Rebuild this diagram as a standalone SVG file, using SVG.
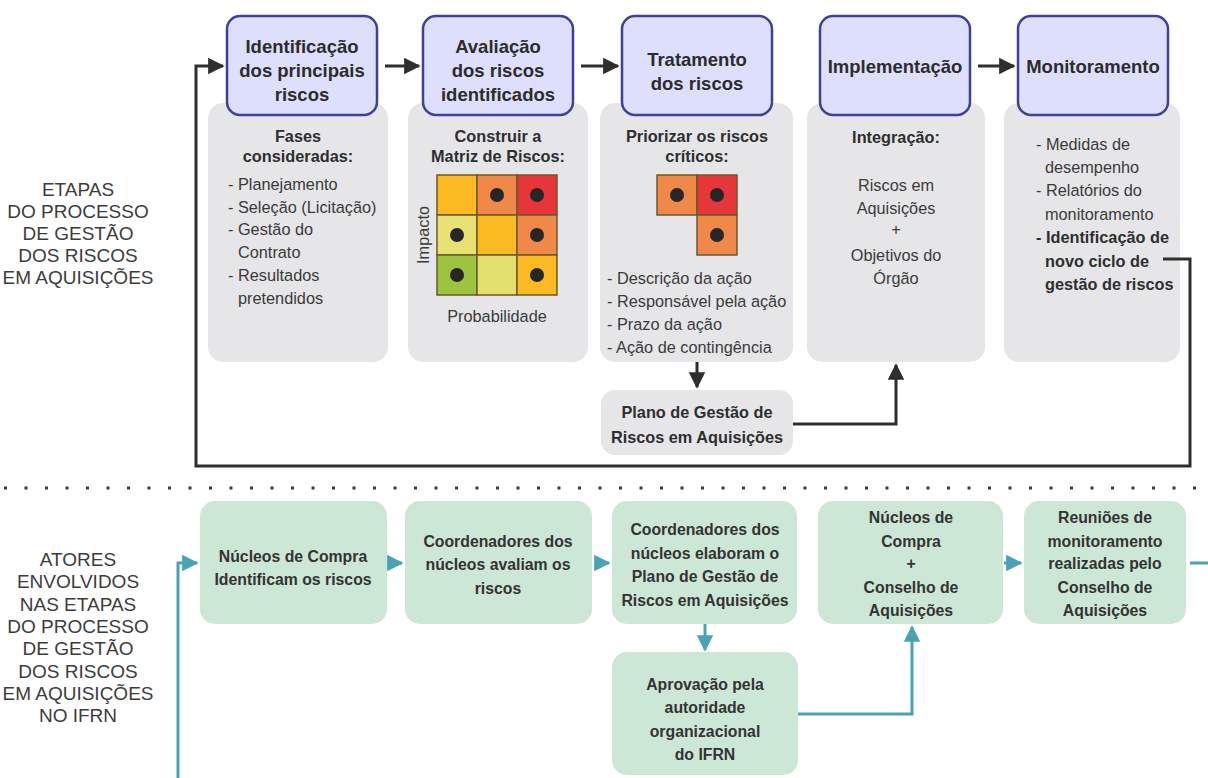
<svg xmlns="http://www.w3.org/2000/svg" width="1208" height="778" viewBox="0 0 1208 778">
  <style>
    text { font-family: "Liberation Sans", Arial, sans-serif; fill: #333; }
    .side { font-size: 19px; fill: #3c3c3c; text-anchor: middle; }
    .head rect { fill: #dedffc; stroke: #3f4196; stroke-width: 2.5; }
    .head text { font-size: 18.5px; font-weight: bold; text-anchor: middle; fill: #2c2c2c; }
    .panel rect.bg { fill: #e6e6e8; }
    .panel text { font-size: 16.3px; fill: #3a3a3a; }
    .panel text.b { font-weight: bold; fill: #2e2e2e; }
    .panel text.c { text-anchor: middle; }
    .actor rect { fill: #cde7d6; }
    .actor text { font-size: 15.8px; font-weight: bold; text-anchor: middle; fill: #333; }
    .cell { stroke: #6b5a2a; stroke-width: 1.5; }
    .dot { fill: #262626; }
    .dk { fill: none; stroke: #2e2e2e; stroke-width: 3; }
    .tl { fill: none; stroke: #4aa3b4; stroke-width: 3; }
  </style>
  <defs>
    <marker id="ahDark" viewBox="0 0 10 10" refX="9" refY="5" markerWidth="5.5" markerHeight="6" markerUnits="strokeWidth" orient="auto">
      <path d="M0,0 L10,5 L0,10 z" fill="#2e2e2e"/>
    </marker>
    <marker id="ahTeal" viewBox="0 0 10 10" refX="9" refY="5" markerWidth="5.5" markerHeight="6" markerUnits="strokeWidth" orient="auto">
      <path d="M0,0 L10,5 L0,10 z" fill="#4aa3b4"/>
    </marker>
  </defs>

  <rect x="0" y="0" width="1208" height="778" fill="#ffffff"/>

  <!-- side captions -->
  <g id="caption-etapas">
    <text class="side" x="78" y="196">ETAPAS</text>
    <text class="side" x="78" y="218">DO PROCESSO</text>
    <text class="side" x="78" y="240">DE GESTÃO</text>
    <text class="side" x="78" y="262">DOS RISCOS</text>
    <text class="side" x="78" y="284">EM AQUISIÇÕES</text>
  </g>
  <g id="caption-atores">
    <text class="side" x="78" y="566">ATORES</text>
    <text class="side" x="78" y="588">ENVOLVIDOS</text>
    <text class="side" x="78" y="611">NAS ETAPAS</text>
    <text class="side" x="78" y="633">DO PROCESSO</text>
    <text class="side" x="78" y="655">DE GESTÃO</text>
    <text class="side" x="78" y="678">DOS RISCOS</text>
    <text class="side" x="78" y="700">EM AQUISIÇÕES</text>
    <text class="side" x="78" y="722">NO IFRN</text>
  </g>

  <!-- dotted separator -->
  <line x1="4" y1="488" x2="1208" y2="488" stroke="#3a3a3a" stroke-width="3" stroke-dasharray="3 17.5"/>

  <!-- gray detail panels -->
  <g id="panel-fases" class="panel">
    <rect class="bg" x="208" y="103" width="180" height="259" rx="15"/>
    <text class="b c" x="298" y="142">Fases</text>
    <text class="b c" x="298" y="162">consideradas:</text>
    <text x="228" y="190">- Planejamento</text>
    <text x="228" y="213">- Seleção (Licitação)</text>
    <text x="228" y="235">- Gestão do</text>
    <text x="238" y="258">Contrato</text>
    <text x="228" y="281">- Resultados</text>
    <text x="238" y="304">pretendidos</text>
  </g>

  <g id="panel-matriz" class="panel">
    <rect class="bg" x="408" y="103" width="180" height="259" rx="15"/>
    <text class="b c" x="498" y="142">Construir a</text>
    <text class="b c" x="498" y="162">Matriz de Riscos:</text>
    <rect class="cell" x="437" y="175" width="40" height="40" fill="#fbba22"/>
    <rect class="cell" x="477" y="175" width="40" height="40" fill="#f0884a"/>
    <rect class="cell" x="517" y="175" width="40" height="40" fill="#e6363a"/>
    <rect class="cell" x="437" y="215" width="40" height="40" fill="#e8e274"/>
    <rect class="cell" x="477" y="215" width="40" height="40" fill="#fbba22"/>
    <rect class="cell" x="517" y="215" width="40" height="40" fill="#f0884a"/>
    <rect class="cell" x="437" y="255" width="40" height="40" fill="#9cc43e"/>
    <rect class="cell" x="477" y="255" width="40" height="40" fill="#e3e070"/>
    <rect class="cell" x="517" y="255" width="40" height="40" fill="#fbba22"/>
    <circle class="dot" cx="497" cy="195" r="7"/>
    <circle class="dot" cx="537" cy="195" r="7"/>
    <circle class="dot" cx="457" cy="235" r="7"/>
    <circle class="dot" cx="537" cy="235" r="7"/>
    <circle class="dot" cx="457" cy="275" r="7"/>
    <circle class="dot" cx="537" cy="275" r="7"/>
    <text class="c" transform="translate(429 235) rotate(-90)">Impacto</text>
    <text class="c" x="497" y="322">Probabilidade</text>
  </g>

  <g id="panel-tratamento" class="panel">
    <rect class="bg" x="600" y="103" width="193" height="259" rx="15"/>
    <text class="b c" x="697" y="142">Priorizar os riscos</text>
    <text class="b c" x="697" y="162">críticos:</text>
    <rect class="cell" x="657" y="175" width="40" height="40" fill="#f0884a"/>
    <rect class="cell" x="697" y="175" width="40" height="40" fill="#e6363a"/>
    <rect class="cell" x="697" y="215" width="40" height="40" fill="#f0884a"/>
    <circle class="dot" cx="677" cy="195" r="7"/>
    <circle class="dot" cx="717" cy="195" r="7"/>
    <circle class="dot" cx="717" cy="235" r="7"/>
    <text x="607" y="284">- Descrição da ação</text>
    <text x="607" y="307">- Responsável pela ação</text>
    <text x="607" y="330">- Prazo da ação</text>
    <text x="607" y="353">- Ação de contingência</text>
  </g>

  <g id="panel-integracao" class="panel">
    <rect class="bg" x="807" y="103" width="178" height="259" rx="15"/>
    <text class="b c" x="896" y="143">Integração:</text>
    <text class="c" x="896" y="191">Riscos em</text>
    <text class="c" x="896" y="214">Aquisições</text>
    <text class="c" x="896" y="235">+</text>
    <text class="c" x="896" y="261">Objetivos do</text>
    <text class="c" x="896" y="284">Órgão</text>
  </g>

  <g id="panel-monitoramento" class="panel">
    <rect class="bg" x="1004" y="103" width="176" height="259" rx="15"/>
    <text x="1036" y="150">- Medidas de</text>
    <text x="1045" y="173">desempenho</text>
    <text x="1036" y="196">- Relatórios do</text>
    <text x="1045" y="220">monitoramento</text>
    <text class="b" x="1036" y="243">- Identificação de</text>
    <text class="b" x="1045" y="267">novo ciclo de</text>
    <text class="b" x="1045" y="290">gestão de riscos</text>
  </g>

  <g id="plano" class="panel">
    <rect class="bg" x="601" y="390" width="192" height="65" rx="14"/>
    <text class="b c" x="697" y="418">Plano de Gestão de</text>
    <text class="b c" x="697" y="443">Riscos em Aquisições</text>
  </g>

  <!-- process stage headers -->
  <g id="stage-identificacao" class="head">
    <rect x="227" y="16" width="150" height="99" rx="13"/>
    <text x="302" y="53">Identificação</text>
    <text x="302" y="77">dos principais</text>
    <text x="302" y="101">riscos</text>
  </g>
  <g id="stage-avaliacao" class="head">
    <rect x="423" y="16" width="150" height="99" rx="13"/>
    <text x="498" y="53">Avaliação</text>
    <text x="498" y="77">dos riscos</text>
    <text x="498" y="101">identificados</text>
  </g>
  <g id="stage-tratamento" class="head">
    <rect x="622" y="16" width="150" height="99" rx="13"/>
    <text x="697" y="66">Tratamento</text>
    <text x="697" y="90">dos riscos</text>
  </g>
  <g id="stage-implementacao" class="head">
    <rect x="820" y="16" width="150" height="99" rx="13"/>
    <text x="895" y="73">Implementação</text>
  </g>
  <g id="stage-monitoramento" class="head">
    <rect x="1018" y="16" width="150" height="99" rx="13"/>
    <text x="1093" y="73">Monitoramento</text>
  </g>

  <!-- actor boxes -->
  <g id="actor-nucleos" class="actor">
    <rect x="200" y="501" width="187" height="123" rx="15"/>
    <text x="293" y="562">Núcleos de Compra</text>
    <text x="293" y="585">Identificam os riscos</text>
  </g>
  <g id="actor-coord-avaliam" class="actor">
    <rect x="405" y="501" width="187" height="123" rx="15"/>
    <text x="498" y="547">Coordenadores dos</text>
    <text x="498" y="570">núcleos avaliam os</text>
    <text x="498" y="594">riscos</text>
  </g>
  <g id="actor-coord-elaboram" class="actor">
    <rect x="612" y="501" width="185" height="123" rx="15"/>
    <text x="705" y="535">Coordenadores dos</text>
    <text x="705" y="559">núcleos elaboram o</text>
    <text x="705" y="582">Plano de Gestão de</text>
    <text x="705" y="606">Riscos em Aquisições</text>
  </g>
  <g id="actor-conselho" class="actor">
    <rect x="818" y="501" width="185" height="123" rx="15"/>
    <text x="911" y="523">Núcleos de</text>
    <text x="911" y="547">Compra</text>
    <text x="911" y="569">+</text>
    <text x="911" y="593">Conselho de</text>
    <text x="911" y="616">Aquisições</text>
  </g>
  <g id="actor-reunioes" class="actor">
    <rect x="1024" y="501" width="162" height="123" rx="15"/>
    <text x="1105" y="523">Reuniões de</text>
    <text x="1105" y="547">monitoramento</text>
    <text x="1105" y="569">realizadas pelo</text>
    <text x="1105" y="593">Conselho de</text>
    <text x="1105" y="616">Aquisições</text>
  </g>
  <g id="actor-aprovacao" class="actor">
    <rect x="612" y="652" width="186" height="123" rx="15"/>
    <text x="705" y="690">Aprovação pela</text>
    <text x="705" y="713">autoridade</text>
    <text x="705" y="737">organizacional</text>
    <text x="705" y="760">do IFRN</text>
  </g>

  <!-- connectors -->
  <g id="connectors">
    <path class="dk" d="M385,66 H419" marker-end="url(#ahDark)"/>
    <path class="dk" d="M581,66 H618" marker-end="url(#ahDark)"/>
    <path class="dk" d="M978,66 H1014" marker-end="url(#ahDark)"/>
    <path class="dk" d="M1163,259 H1190 V466 H196 V66 H223" marker-end="url(#ahDark)"/>
    <path class="dk" d="M697,362 V387" marker-end="url(#ahDark)"/>
    <path class="dk" d="M793,424 H896 V365" marker-end="url(#ahDark)"/>

    <path class="tl" d="M178,778 V563 H197" marker-end="url(#ahTeal)"/>
    <path class="tl" d="M389,563 H402" marker-end="url(#ahTeal)"/>
    <path class="tl" d="M595,563 H609" marker-end="url(#ahTeal)"/>
    <path class="tl" d="M1004,563 H1021" marker-end="url(#ahTeal)"/>
    <path class="tl" d="M1190,563 H1208"/>
    <path class="tl" d="M705,624 V650" marker-end="url(#ahTeal)"/>
    <path class="tl" d="M798,714 H912 V627" marker-end="url(#ahTeal)"/>
  </g>
</svg>
